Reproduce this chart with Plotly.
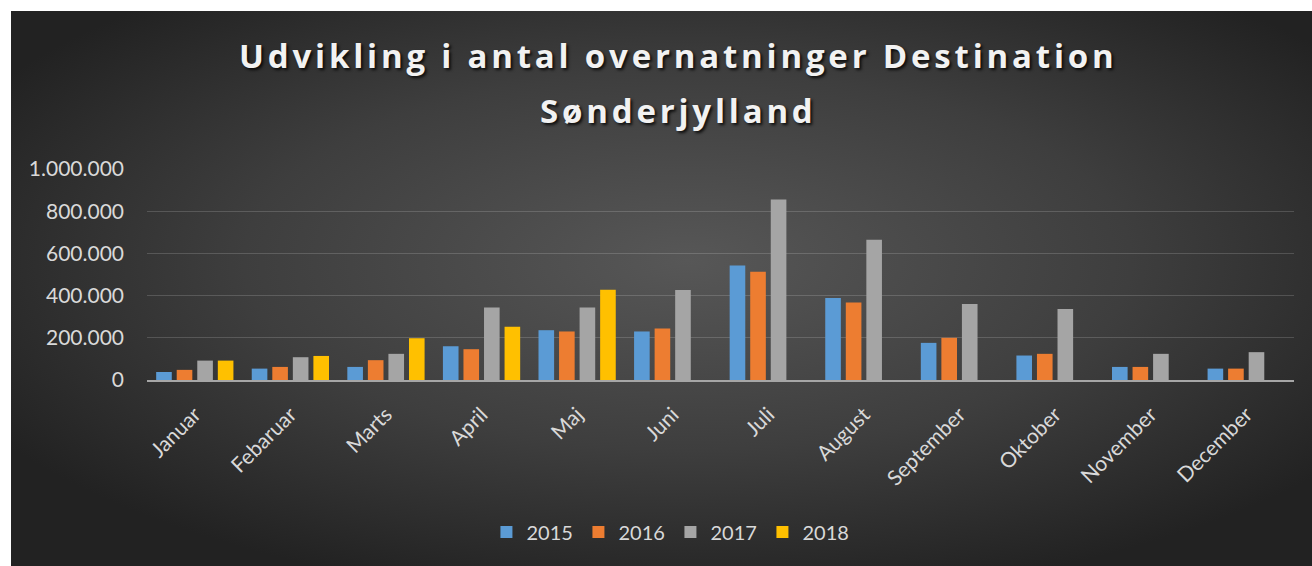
import base64
import plotly.graph_objects as go

months = ["Januar", "Febaruar", "Marts", "April", "Maj", "Juni", "Juli",
          "August", "September", "Oktober", "November", "December"]
years = ["2015", "2016", "2017", "2018"]

v2015 = [38000, 54000, 62000, 160000, 236000, 230000, 543000, 389000, 176000, 116000, 62000, 54000]
v2016 = [48000, 62000, 94000, 146000, 230000, 244000, 513000, 367000, 200000, 124000, 62000, 54000]
v2017 = [92000, 108000, 124000, 344000, 344000, 427000, 855000, 665000, 360000, 336000, 124000, 132000]
v2018 = [92000, 114000, 198000, 252000, 428000, None, None, None, None, None, None, None]

series = [v2015, v2016, v2017, v2018]
colors = ["#5B9BD5", "#ED7D31", "#A5A5A5", "#FFC000"]

yticks = [0, 200000, 400000, 600000, 800000, 1000000]

title_line1 = "Udvikling i antal overnatninger Destination"
title_line2 = "Sønderjylland"

W, H = 1312, 566
L, R, T, B = 147, 18, 169, 186
pw, ph = W - L - R, H - T - B

fig = go.Figure()
for name, vals, col in zip(years, series, colors):
    fig.add_trace(go.Bar(name=name, x=months, y=vals, marker=dict(color=col, line=dict(width=0))))

svg = (
    '<svg xmlns="http://www.w3.org/2000/svg" width="1300" height="555" preserveAspectRatio="none">'
    '<defs><radialGradient id="g" cx="52%" cy="45%" r="62%">'
    '<stop offset="0" stop-color="#575757"/>'
    '<stop offset="0.55" stop-color="#3e3e3e"/>'
    '<stop offset="1" stop-color="#222222"/>'
    '</radialGradient></defs>'
    '<rect width="1300" height="555" fill="url(#g)"/></svg>'
)
uri = "data:image/svg+xml;base64," + base64.b64encode(svg.encode()).decode()

bx0, bx1, by0, by1 = 11, 1312, 11, 566
fig.add_layout_image(
    source=uri, xref="paper", yref="paper",
    x=(bx0 - L) / pw, y=(H - B - by0) / ph,
    sizex=(bx1 - bx0) / pw, sizey=(by1 - by0) / ph,
    xanchor="left", yanchor="top", sizing="stretch", layer="below",
)

tfont = dict(family="Open Sans", size=33, color="#F2F2F2", weight="bold",
             shadow="2px 2px 3px rgba(0,0,0,0.8)")
ls = 'letter-spacing:3.8px'

fig.update_layout(
    width=W, height=H,
    margin=dict(l=L, r=R, t=T, b=B),
    paper_bgcolor="white",
    plot_bgcolor="rgba(0,0,0,0)",
    separators=",.",
    barmode="group",
    bargap=0.14,
    bargroupgap=0.24,
    title=dict(
        text=f'<span style="{ls}">{title_line1}</span>',
        x=0.517, xref="container", xanchor="center",
        y=1 - 56 / H, yref="container", yanchor="middle",
        font=tfont,
    ),
    font=dict(family="Lato", color="#D9D9D9", size=20),
    legend=dict(
        orientation="h", x=0.511, xref="container", xanchor="center",
        y=1 - 532 / H, yref="container", yanchor="middle",
        font=dict(size=20, color="#D9D9D9"),
        bgcolor="rgba(0,0,0,0)", itemclick=False,
        entrywidth=47, entrywidthmode="pixels",
    ),
    showlegend=True,
)

fig.add_annotation(
    text=f'<span style="{ls}">{title_line2}</span>',
    xref="paper", yref="paper",
    x=(678 - L) / pw, y=(H - B - 110) / ph,
    xanchor="center", yanchor="middle", showarrow=False,
    font=tfont,
)

fig.update_yaxes(
    range=[0, 1000000], tickvals=yticks, tickformat=",d",
    showgrid=True, gridcolor="rgba(255,255,255,0.16)", gridwidth=1,
    zeroline=False, showline=False, ticks="",
    ticklabelstandoff=22, tickfont=dict(size=21, color="#D9D9D9"),
)
fig.update_xaxes(
    showline=True, linecolor="#A6A6A6", linewidth=2,
    showgrid=False, ticks="", tickangle=-45,
    ticklabelstandoff=12, tickfont=dict(size=21, color="#D9D9D9"),
)

fig.write_html("out.html", config={"displayModeBar": False},
               post_script="document.body.style.margin='0';")
